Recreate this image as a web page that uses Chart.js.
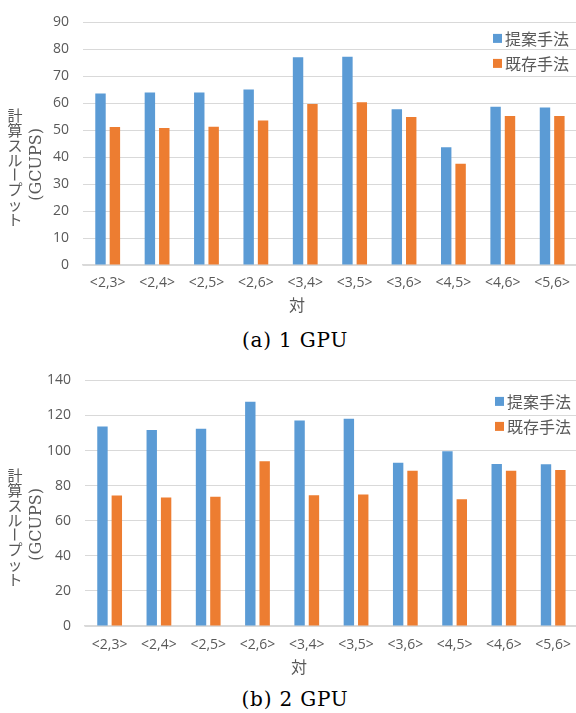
<!DOCTYPE html>
<html>
<head>
<meta charset="utf-8">
<script src="https://cdn.jsdelivr.net/npm/chart.js@4.4.0/dist/chart.umd.min.js"></script>
<style>
html, body { margin: 0; padding: 0; background: #fff; width: 576px; height: 713px; overflow: hidden; }
.box { position: absolute; left: 0; }
.caption { position: absolute; left: 7px; width: 576px; text-align: center; font-family: "DejaVu Serif", serif; font-size: 20px; letter-spacing: 0.8px; line-height: 24px; color: #000; }
</style>
</head>
<body>
<div class="box" style="top:0px"><canvas id="chartA" width="580" height="320"></canvas></div>
<div class="caption" id="capA" style="top:328px"></div>
<div class="box" style="top:358px"><canvas id="chartB" width="582" height="320"></canvas></div>
<div class="caption" id="capB" style="top:687px"></div>
<script>
// datos
const pairs = ['<2,3>', '<2,4>', '<2,5>', '<2,6>', '<3,4>', '<3,5>', '<3,6>', '<4,5>', '<4,6>', '<5,6>'];
const seriesNames = ['提案手法', '既存手法'];
const proposed1 = [63.6, 64.0, 64.0, 65.1, 77.1, 77.3, 57.8, 43.7, 58.7, 58.4];
const existing1 = [51.2, 50.8, 51.3, 53.6, 59.7, 60.4, 54.9, 37.6, 55.3, 55.3];
const proposed2 = [113.7, 111.7, 112.4, 127.9, 117.2, 118.1, 93.0, 99.6, 92.4, 92.2];
const existing2 = [74.4, 73.3, 73.7, 93.9, 74.6, 75.0, 88.5, 72.2, 88.5, 88.9];
const yRange1 = [0, 90, 10];
const yRange2 = [0, 140, 20];
const yTitleJa = '計算スループット';
const yTitleUnit = '(GCUPS)';
const xTitle = '対';
const captions = ['(a) 1 GPU', '(b) 2 GPU'];

document.getElementById('capA').textContent = captions[0];
document.getElementById('capB').textContent = captions[1];

const textGray = '#595959';
const gridGray = '#d9d9d9';

// titulos de ejes y leyenda dibujados a mano
const axisDeco = {
    id: 'axisDeco',
    afterDraw(chart, args, opts) {
        const ctx = chart.ctx;
        const area = chart.chartArea;
        ctx.save();
        ctx.fillStyle = textGray;
        ctx.textAlign = 'center';
        ctx.textBaseline = 'middle';

        // titulo vertical, caracteres derechos
        ctx.font = '15px "Noto Sans CJK JP"';
        let y = area.top + opts.jaTop;
        for (const ch of yTitleJa) {
            if (ch === 'ー') {
                ctx.save();
                ctx.translate(15, y);
                ctx.rotate(Math.PI / 2);
                ctx.fillText(ch, 0, 0);
                ctx.restore();
            } else {
                ctx.fillText(ch, 15, y);
            }
            y += 14.8;
        }

        ctx.save();
        ctx.translate(37, area.top + opts.unitMid);
        ctx.rotate(-Math.PI / 2);
        ctx.font = '16px "DejaVu Serif"';
        ctx.fillText(yTitleUnit, 0, 0);
        ctx.restore();

        ctx.font = '16px "Noto Sans CJK JP"';
        ctx.fillText(xTitle, opts.xTitleX, area.bottom + opts.xTitleDy);

        // leyenda
        ctx.textAlign = 'left';
        ctx.font = '16px "Noto Sans CJK JP"';
        chart.data.datasets.forEach((ds, i) => {
            const cy = area.top + opts.legTop + i * 25;
            ctx.fillStyle = ds.backgroundColor;
            ctx.fillRect(opts.legX, cy - 4.5, 9, 9);
            ctx.fillStyle = textGray;
            ctx.fillText(ds.label, opts.legX + 12, cy + 1);
        });
        ctx.restore();
    }
};

function makeChart(id, blue, orange, yRange, yWidth, xHeight, tickPad, deco) {
    const ctx = document.getElementById(id).getContext('2d');
    return new Chart(ctx, {
        type: 'bar',
        data: {
            labels: pairs,
            datasets: [
                {
                    label: seriesNames[0],
                    data: blue,
                    backgroundColor: '#5b9bd5', // azul
                    categoryPercentage: 0.583,
                    barPercentage: 0.724
                },
                {
                    label: seriesNames[1],
                    data: orange,
                    backgroundColor: '#ed7d31', // naranja
                    categoryPercentage: 0.583,
                    barPercentage: 0.724
                }
            ]
        },
        options: {
            responsive: false,
            animation: false,
            layout: { padding: { top: 16, left: 0, right: 0, bottom: 0 } },
            scales: {
                x: {
                    grid: { display: false, drawTicks: false },
                    border: { display: true, color: gridGray, width: 1.5 },
                    ticks: {
                        color: textGray,
                        padding: tickPad,
                        maxRotation: 0,
                        autoSkip: false,
                        font: { family: '"Open Sans"', size: 14 }
                    },
                    afterFit: function(scale) { scale.height = xHeight; }
                },
                y: {
                    min: yRange[0],
                    max: yRange[1],
                    grid: { color: gridGray, lineWidth: 1, drawTicks: false },
                    border: { display: false },
                    ticks: {
                        stepSize: yRange[2],
                        color: textGray,
                        padding: 14,
                        font: { family: '"Open Sans"', size: 14 }
                    },
                    afterFit: function(scale) { scale.width = yWidth; }
                }
            },
            plugins: {
                legend: { display: false },
                tooltip: { enabled: false },
                axisDeco: deco
            }
        },
        plugins: [axisDeco]
    });
}

makeChart('chartA', proposed1, existing1, yRange1, 83, 55, 10,
    { jaTop: 93, unitMid: 142, xTitleX: 297, xTitleDy: 40, legX: 493, legTop: 16 });
makeChart('chartB', proposed2, existing2, yRange2, 85, 52, 11,
    { jaTop: 95, unitMid: 144, xTitleX: 299, xTitleDy: 41, legX: 495, legTop: 21 });
</script>
</body>
</html>
